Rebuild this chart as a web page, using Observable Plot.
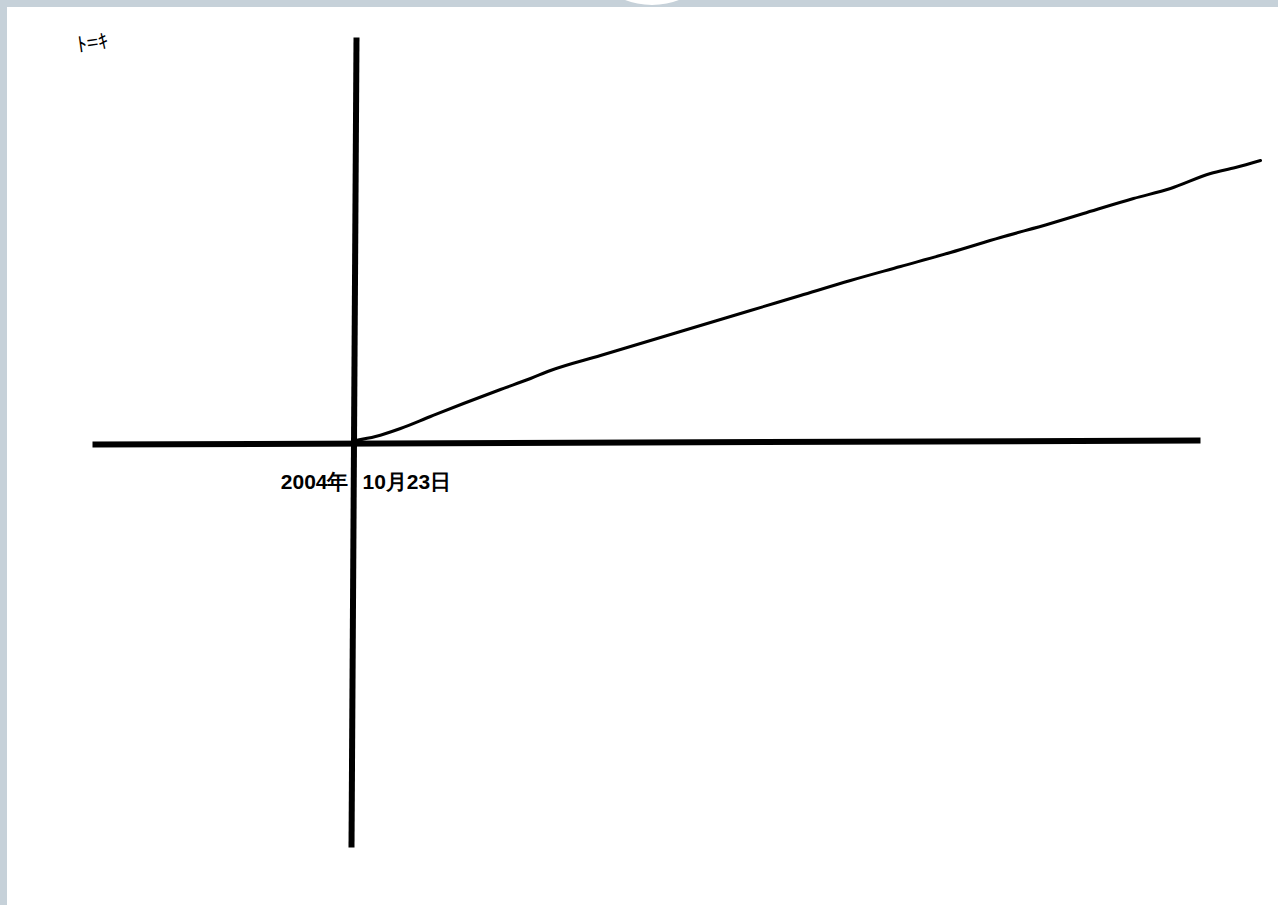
<!DOCTYPE html>
<html>
<head>
<meta charset="utf-8">
<script src="https://cdn.jsdelivr.net/npm/d3@7"></script>
<script src="https://cdn.jsdelivr.net/npm/@observablehq/plot@0.6"></script>
<style>
  html, body { margin: 0; padding: 0; }
  body { width: 1278px; height: 905px; background: #c6d1d9; position: relative; overflow: hidden; font-family: "Liberation Sans", Arial, sans-serif; }
  #panel { position: absolute; left: 7px; top: 7px; right: 0; bottom: 0; background: #fff; }
  #knob { position: absolute; left: 577px; top: -145px; width: 150px; height: 150px; border-radius: 50%; background: #fff; }
  #chart { position: absolute; left: 0; top: 0; }
</style>
</head>
<body>
<div id="panel"></div>
<div id="knob"></div>
<div id="chart"></div>
<script>
// Days after the origin (2004年10月23日) and the plotted cumulative value
const days   = [0, 20, 45, 75, 108, 145, 175, 195, 245, 295, 345, 395, 445, 495, 545, 595, 645, 695, 728, 778, 815, 855, 880, 905];
const values = [3, 7, 15, 27, 40, 54, 65, 73, 88, 103, 118, 133, 148, 163, 177, 191, 206, 220, 230, 245, 255, 270, 276, 283];
const dateYear = "2004年";
const dateDay = "10月23日";
const note = "ﾄ=ｷ";
// Axis extents (data units)
const hAxisX = [-263, 845];
const hAxisY = [-1, 3];
const vAxisX = [1, -4];
const vAxisY = [406, -404];

const series = days.map((d, i) => ({x: d, y: values[i]}));
const hAxis = hAxisX.map((x, i) => ({x, y: hAxisY[i]}));
const vAxis = vAxisY.map((y, i) => ({x: vAxisX[i], y}));

const chart = Plot.plot({
  width: 1278,
  height: 905,
  margin: 0,
  style: {background: "transparent", overflow: "visible"},
  x: {domain: [-355, 923], axis: null},
  y: {domain: [-462, 443], axis: null},
  marks: [
    Plot.line(hAxis, {x: "x", y: "y", stroke: "#000", strokeWidth: 6, strokeLinecap: "butt"}),
    Plot.line(vAxis, {x: "x", y: "y", stroke: "#000", strokeWidth: 6, strokeLinecap: "butt"}),
    Plot.line(series, {x: "x", y: "y", stroke: "#000", strokeWidth: 3, curve: "monotone-x"}),
    Plot.text([dateYear], {x: -7, y: -39, text: d => d, textAnchor: "end", fontSize: 21, fontWeight: "bold", fill: "#000", fontFamily: "Liberation Sans, Arial, sans-serif"}),
    Plot.text([dateDay], {x: 7, y: -39, text: d => d, textAnchor: "start", fontSize: 21, fontWeight: "bold", fill: "#000", fontFamily: "Liberation Sans, Arial, sans-serif"}),
    Plot.text([note], {x: -263, y: 400, text: d => d, textAnchor: "middle", fontSize: 20, rotate: -8, fill: "#000", fontFamily: "Noto Sans CJK JP, sans-serif"})
  ]
});
document.getElementById("chart").appendChild(chart);
</script>
</body>
</html>
